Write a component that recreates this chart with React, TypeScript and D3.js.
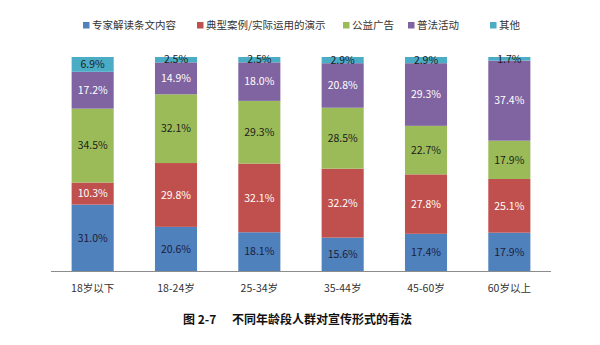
import React from "react";
import * as d3 from "d3";

const categories = ["18岁以下", "18-24岁", "25-34岁", "35-44岁", "45-60岁", "60岁以上"];
const seriesNames = ["专家解读条文内容", "典型案例/实际运用的演示", "公益广告", "普法活动", "其他"];
const expert = [31.0, 20.6, 18.1, 15.6, 17.4, 17.9];
const cases = [10.3, 29.8, 32.1, 32.2, 27.8, 25.1];
const ads = [34.5, 32.1, 29.3, 28.5, 22.7, 17.9];
const activities = [17.2, 14.9, 18.0, 20.8, 29.3, 37.4];
const others = [6.9, 2.5, 2.5, 2.9, 2.9, 1.7];
const title = "图 2-7";
const subtitle = "不同年龄段人群对宣传形式的看法";

const seriesValues = [expert, cases, ads, activities, others];
const colors = ["#4F81BD", "#C0504D", "#9BBB59", "#8064A2", "#4BACC6"];
const labelColors = ["#1c1c3a", "#ffffff", "#1c1c1c", "#ffffff", "#1c1c1c"];
const legendX = [83, 197, 343, 408, 490];

const FONT = "'Noto Sans CJK SC', 'Noto Sans', sans-serif";

export default function App() {
  const W = 600, H = 345;
  const left = 51, right = 551, top = 57, bottom = 271;

  const rows = categories.map((c, i) => {
    const r: any = { cat: c };
    seriesNames.forEach((s, j) => (r[s] = seriesValues[j][i]));
    return r;
  });
  const stack = d3.stack<any>().keys(seriesNames).offset(d3.stackOffsetExpand);
  const layers = stack(rows);

  const x = d3.scaleBand().domain(categories).range([left, right]).paddingInner(0.495).paddingOuter(0.2475);
  const y = d3.scaleLinear().domain([0, 1]).range([bottom, top]);

  return (
    <svg width={W} height={H} style={{ display: "block", position: "absolute", left: 0, top: 0 }} fontFamily={FONT}>
      <rect width={W} height={H} fill="#fff" />
      {seriesNames.map((s, j) => (
        <g key={s}>
          <rect x={legendX[j]} y={22} width={6.5} height={6.5} fill={colors[j]} />
          <text x={legendX[j] + 9} y={29} fontSize={10.5} fill="#333">{s}</text>
        </g>
      ))}
      {layers.map((layer, j) => (
        <g key={layer.key}>
          {layer.map((d, i) => {
            const bx = x(categories[i])!;
            const y0 = y(d[0]), y1 = y(d[1]);
            return (
              <g key={i}>
                <rect x={bx} y={y1} width={x.bandwidth()} height={y0 - y1} fill={colors[j]} />
                <text x={bx + x.bandwidth() / 2} y={(y0 + y1) / 2} dy="0.36em" textAnchor="middle" fontSize={10.5} fill={labelColors[j]}>
                  {seriesValues[j][i].toFixed(1)}%
                </text>
              </g>
            );
          })}
        </g>
      ))}
      <line x1={left} x2={right} y1={bottom + 0.5} y2={bottom + 0.5} stroke="#8c8c8c" strokeWidth={1} />
      {categories.map((c) => (
        <text key={c} x={x(c)! + x.bandwidth() / 2} y={292} textAnchor="middle" fontSize={10.5} fill="#333">{c}</text>
      ))}
      <text x={183} y={324} fontSize={12} fontWeight="bold" fill="#111">{title}</text>
      <text x={232} y={324} fontSize={12} fontWeight="bold" fill="#111">{subtitle}</text>
    </svg>
  );
}
